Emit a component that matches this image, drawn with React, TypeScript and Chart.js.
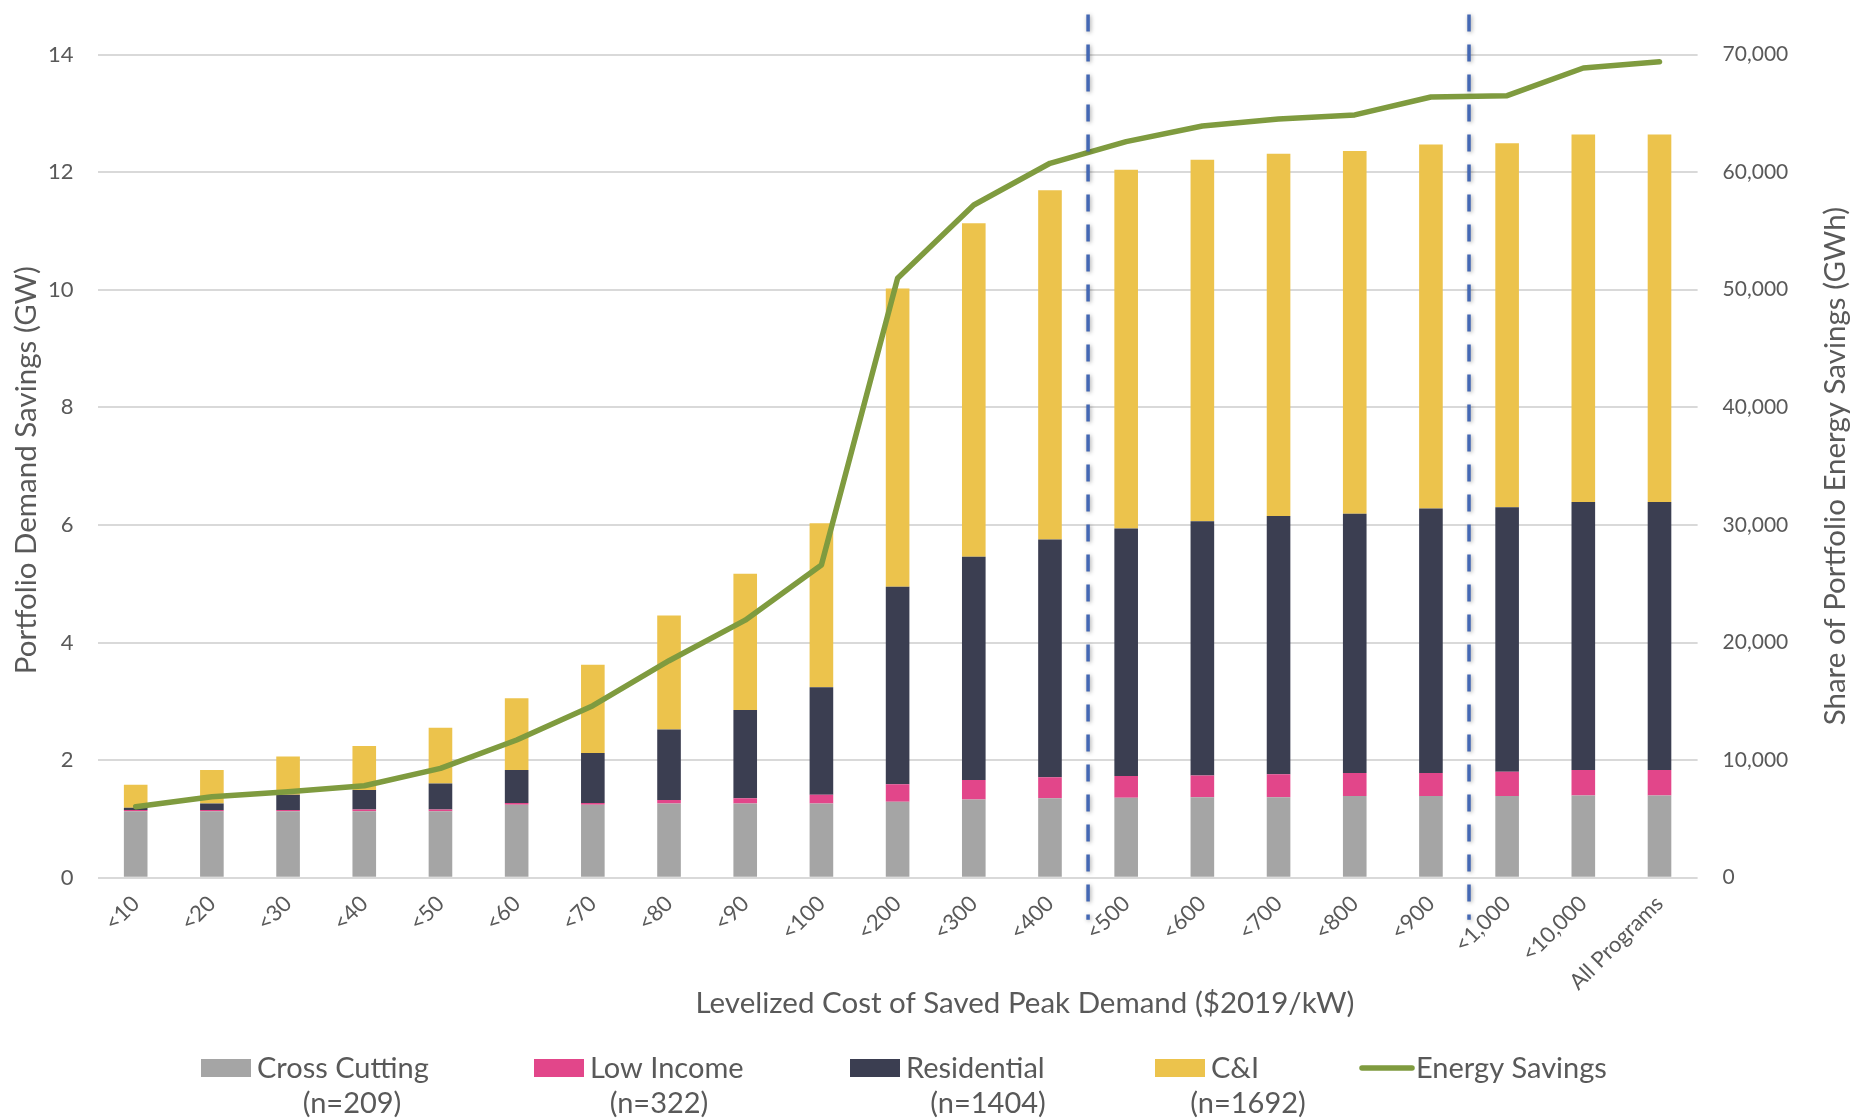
import React, { useEffect, useRef } from 'react';
import { Chart, registerables } from 'chart.js';

Chart.register(...registerables);

// ---------- data ----------
const categories = ['<10', '<20', '<30', '<40', '<50', '<60', '<70', '<80', '<90', '<100', '<200', '<300', '<400', '<500', '<600', '<700', '<800', '<900', '<1,000', '<10,000', 'All Programs'];
const crossCutting = [1.13, 1.13, 1.13, 1.13, 1.13, 1.24, 1.24, 1.26, 1.26, 1.26, 1.29, 1.33, 1.35, 1.36, 1.37, 1.37, 1.39, 1.39, 1.39, 1.40, 1.40];
const lowIncome = [0.02, 0.02, 0.02, 0.03, 0.03, 0.03, 0.03, 0.06, 0.09, 0.15, 0.30, 0.33, 0.36, 0.37, 0.37, 0.39, 0.39, 0.39, 0.41, 0.43, 0.43];
const residential = [0.04, 0.11, 0.26, 0.33, 0.44, 0.56, 0.85, 1.20, 1.50, 1.83, 3.36, 3.80, 4.04, 4.21, 4.32, 4.39, 4.41, 4.50, 4.50, 4.56, 4.56];
const commercialIndustrial = [0.39, 0.57, 0.65, 0.75, 0.95, 1.22, 1.50, 1.94, 2.32, 2.79, 5.07, 5.67, 5.94, 6.10, 6.15, 6.16, 6.17, 6.19, 6.19, 6.25, 6.25];
const energySavings = [6040, 6890, 7310, 7820, 9300, 11710, 14630, 18450, 21900, 26590, 50970, 57200, 60750, 62590, 63920, 64520, 64860, 66390, 66500, 68850, 69390];
const seriesNames = ['Cross Cutting', 'Low Income', 'Residential', 'C&I', 'Energy Savings'];
const seriesCounts = ['(n=209)', '(n=322)', '(n=1404)', '(n=1692)', ''];
const dividerBefore = ['<500', '<1,000'];
const leftAxis = { min: 0, max: 14, step: 2 };
const rightAxis = { min: 0, max: 70000, step: 10000 };
const xTitle = 'Levelized Cost of Saved Peak Demand ($2019/kW)';
const yTitle = 'Portfolio Demand Savings (GW)';
const y1Title = 'Share of Portfolio Energy Savings (GWh)';

// ---------- styling ----------
const FONT = 'Lato, "Open Sans", sans-serif';
const TEXT = '#595959';
const COLORS = ['#a5a5a5', '#e2468a', '#3b3e51', '#ecc34c', '#7f9b3f'];
const DIVIDER = '#4468b4';
const GRID = '#d9d9d9';
const TITLE_SIZE = 29.5;
const LEGEND_SIZE = 29;
const LEGEND_BOX_X = [201, 534, 850, 1155, 1360];
const LEGEND_LINE2_CX = [352, 659, 988, 1248, 0];

const overlayPlugin = {
  id: 'overlay',
  afterDatasetsDraw(chart: any) {
    const { ctx, chartArea, scales } = chart;
    const x = scales.x;
    ctx.save();
    dividerBefore.forEach((label) => {
      const i = categories.indexOf(label);
      const px = (x.getPixelForValue(i - 1) + x.getPixelForValue(i)) / 2;
      ctx.beginPath();
      ctx.setLineDash([17, 13]);
      ctx.lineWidth = 3.5;
      ctx.strokeStyle = DIVIDER;
      ctx.shadowColor = 'rgba(0,0,0,0.35)';
      ctx.shadowBlur = 4;
      ctx.shadowOffsetX = 1;
      ctx.shadowOffsetY = 1;
      ctx.moveTo(px, chartArea.top - 40);
      ctx.lineTo(px, chartArea.bottom + 42);
      ctx.stroke();
    });
    ctx.restore();
  },
  afterDraw(chart: any) {
    const { ctx, chartArea } = chart;
    ctx.save();
    ctx.fillStyle = TEXT;
    ctx.font = `${TITLE_SIZE}px ${FONT}`;
    // x title
    ctx.textAlign = 'center';
    ctx.textBaseline = 'alphabetic';
    ctx.fillText(xTitle, 1025, 1013);
    // left title
    const midY = (chartArea.top + chartArea.bottom) / 2;
    ctx.save();
    ctx.translate(26.5, midY + 4);
    ctx.rotate(-Math.PI / 2);
    ctx.textBaseline = 'middle';
    ctx.fillText(yTitle, 0, 0);
    ctx.restore();
    // right title
    ctx.save();
    ctx.translate(1835, midY);
    ctx.rotate(-Math.PI / 2);
    ctx.textBaseline = 'middle';
    ctx.fillText(y1Title, 0, 0);
    ctx.restore();

    // legend
    ctx.font = `${LEGEND_SIZE}px ${FONT}`;
    ctx.textBaseline = 'alphabetic';
    seriesNames.forEach((name, i) => {
      const bx = LEGEND_BOX_X[i];
      if (i < 4) {
        ctx.fillStyle = COLORS[i];
        ctx.fillRect(bx, 1059, 50, 18);
      } else {
        ctx.strokeStyle = COLORS[i];
        ctx.lineWidth = 5.5;
        ctx.lineCap = 'round';
        ctx.beginPath();
        ctx.moveTo(bx + 2, 1068);
        ctx.lineTo(bx + 52, 1068);
        ctx.stroke();
      }
      ctx.fillStyle = TEXT;
      ctx.textAlign = 'left';
      ctx.fillText(name, bx + 56, 1078);
      if (seriesCounts[i]) {
        ctx.textAlign = 'center';
        ctx.fillText(seriesCounts[i], LEGEND_LINE2_CX[i], 1113);
      }
    });
    ctx.restore();
  },
};

export default function App() {
  const canvasRef = useRef<HTMLCanvasElement | null>(null);

  useEffect(() => {
    if (!canvasRef.current) return;
    const barCommon = {
      type: 'bar' as const,
      yAxisID: 'y',
      stack: 'demand',
      barPercentage: 0.31,
      categoryPercentage: 1,
      borderWidth: 0,
      order: 2,
    };
    const chart = new Chart(canvasRef.current, {
      type: 'bar',
      data: {
        labels: categories,
        datasets: [
          { ...barCommon, label: seriesNames[0], data: crossCutting, backgroundColor: COLORS[0] },
          { ...barCommon, label: seriesNames[1], data: lowIncome, backgroundColor: COLORS[1] },
          { ...barCommon, label: seriesNames[2], data: residential, backgroundColor: COLORS[2] },
          { ...barCommon, label: seriesNames[3], data: commercialIndustrial, backgroundColor: COLORS[3] },
          {
            type: 'line' as const,
            label: seriesNames[4],
            data: energySavings,
            yAxisID: 'y1',
            borderColor: COLORS[4],
            backgroundColor: COLORS[4],
            borderWidth: 5.5,
            pointRadius: 0,
            tension: 0,
            borderCapStyle: 'round',
            borderJoinStyle: 'round',
            order: 0,
          } as any,
        ],
      },
      options: {
        animation: false,
        responsive: true,
        maintainAspectRatio: false,
        layout: { padding: { top: 54.5, left: 0, right: 0, bottom: 0 } },
        plugins: { legend: { display: false }, tooltip: { enabled: false } },
        scales: {
          x: {
            stacked: true,
            grid: { display: false, drawTicks: false },
            border: { display: false },
            ticks: {
              color: TEXT,
              font: { family: FONT, size: 22 },
              maxRotation: 45,
              minRotation: 45,
              padding: 13,
              autoSkip: false,
            },
            afterFit: (s: any) => { s.height = 242.3; },
          },
          y: {
            stacked: true,
            position: 'left',
            min: leftAxis.min,
            max: leftAxis.max,
            ticks: { stepSize: leftAxis.step, color: TEXT, font: { family: FONT, size: 22 }, padding: 24 },
            grid: { color: GRID, lineWidth: 2, drawTicks: false },
            border: { display: false },
            afterFit: (s: any) => { s.width = 97.6; },
          },
          y1: {
            position: 'right',
            min: rightAxis.min,
            max: rightAxis.max,
            ticks: { stepSize: rightAxis.step, color: TEXT, font: { family: FONT, size: 21 }, padding: 25 },
            grid: { display: false, drawTicks: false },
            border: { display: false },
            afterFit: (s: any) => { s.width = 153.4; },
          },
        },
      } as any,
      plugins: [overlayPlugin],
    });
    return () => chart.destroy();
  }, []);

  return (
    <div style={{ position: 'fixed', left: 0, top: 0, width: 1851, height: 1120, background: '#ffffff' }}>
      <canvas ref={canvasRef} />
    </div>
  );
}
